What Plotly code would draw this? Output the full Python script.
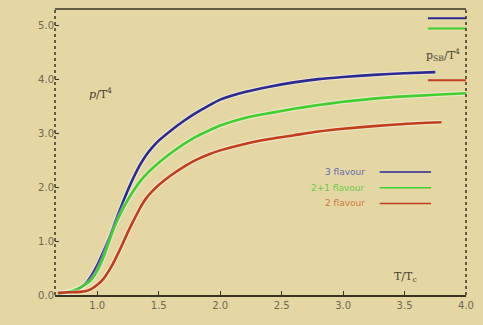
import plotly.graph_objects as go

# ---- data ----
x_3f = [0.68, 0.75, 0.80, 0.85, 0.90, 0.95, 1.00, 1.05, 1.10, 1.15, 1.20, 1.25, 1.30, 1.35, 1.40, 1.45, 1.50,
        1.60, 1.70, 1.80, 1.90, 2.00, 2.20, 2.40, 2.60, 2.80, 3.00, 3.25, 3.50, 3.75]
y_3f = [0.03, 0.04, 0.07, 0.12, 0.20, 0.35, 0.55, 0.80, 1.07, 1.38, 1.67, 1.95, 2.20, 2.42, 2.60, 2.74, 2.86,
        3.05, 3.22, 3.37, 3.50, 3.62, 3.76, 3.86, 3.94, 4.00, 4.04, 4.08, 4.11, 4.13]

x_21f = [0.68, 0.75, 0.80, 0.87, 0.95, 1.00, 1.05, 1.10, 1.15, 1.20, 1.25, 1.30, 1.35, 1.40, 1.50, 1.60,
         1.70, 1.80, 1.90, 2.00, 2.20, 2.40, 2.60, 2.80, 3.00, 3.25, 3.50, 3.75, 4.00]
y_21f = [0.03, 0.05, 0.08, 0.15, 0.28, 0.45, 0.70, 1.02, 1.32, 1.56, 1.77, 1.95, 2.11, 2.24, 2.45, 2.63,
         2.79, 2.93, 3.04, 3.14, 3.28, 3.37, 3.45, 3.52, 3.58, 3.64, 3.68, 3.71, 3.74]

x_2f = [0.68, 0.75, 0.80, 0.90, 0.95, 1.00, 1.05, 1.10, 1.15, 1.20, 1.25, 1.30, 1.35, 1.40, 1.45, 1.50, 1.60,
        1.70, 1.80, 1.90, 2.00, 2.20, 2.40, 2.60, 2.80, 3.00, 3.25, 3.50, 3.80]
y_2f = [0.04, 0.05, 0.05, 0.07, 0.11, 0.19, 0.30, 0.47, 0.68, 0.92, 1.17, 1.40, 1.62, 1.80, 1.93, 2.04, 2.22,
        2.37, 2.50, 2.60, 2.68, 2.80, 2.89, 2.96, 3.03, 3.08, 3.13, 3.17, 3.20]

series_names = ["3 flavour", "2+1 flavour", "2 flavour"]
sb_limits = [5.13, 4.94, 3.98]          # Stefan-Boltzmann limits p_SB/T^4
sb_x = [3.69, 4.0]

x_ticks = [1.0, 1.5, 2.0, 2.5, 3.0, 3.5, 4.0]
y_ticks = [0.0, 1.0, 2.0, 3.0, 4.0, 5.0]

line_colors = ["#2b2a95", "#3fcf2f", "#c23d1c"]
text_colors = ["#6a6aae", "#6ccb4c", "#d27a45"]
bg = "#e4d7a4"
axis_col = "#3a3324"
label_col = "#6f6751"

fig = go.Figure()

for xs, ys, c in [(x_3f, y_3f, line_colors[0]), (x_21f, y_21f, line_colors[1]), (x_2f, y_2f, line_colors[2])]:
    fig.add_trace(go.Scatter(x=xs, y=ys, mode="lines",
                             line=dict(color="rgba(255,255,255,0.35)", width=5, shape="spline", smoothing=0.6),
                             showlegend=False, hoverinfo="skip"))
    fig.add_trace(go.Scatter(x=xs, y=ys, mode="lines",
                             line=dict(color=c, width=2.6, shape="spline", smoothing=0.6),
                             showlegend=False))

# SB limit markers at right edge
for v, c in zip(sb_limits, line_colors):
    fig.add_trace(go.Scatter(x=sb_x, y=[v, v], mode="lines", line=dict(color=c, width=2),
                             showlegend=False, hoverinfo="skip"))

fig.add_annotation(x=3.81, y=4.44, text="p<sub>SB</sub>/T<sup>4</sup>", showarrow=False,
                   font=dict(size=11, color="#4a4232", family="DejaVu Serif"))
fig.add_annotation(x=1.03, y=3.74, text="<i>p</i>/T<sup>4</sup>", showarrow=False,
                   font=dict(size=11, color="#4a4232", family="DejaVu Serif"))
fig.add_annotation(x=3.51, y=0.33, text="T/T<sub>c</sub>", showarrow=False,
                   font=dict(size=11, color="#4a4232", family="DejaVu Serif"))

# custom legend: text on left, line on right
legend_y = [0.43, 0.375, 0.32]
for name, tc, lc, ly in zip(series_names, text_colors, line_colors, legend_y):
    fig.add_annotation(xref="paper", yref="paper", x=0.76, y=ly, text=name, showarrow=False,
                       xanchor="right", yanchor="middle", font=dict(size=9, color=tc, family="DejaVu Sans"))
    fig.add_shape(type="line", xref="paper", yref="paper", x0=0.79, x1=0.915, y0=ly, y1=ly,
                  line=dict(color=lc, width=1.5))

# dotted left/right axis lines
for xp in [0, 1]:
    fig.add_shape(type="line", xref="paper", yref="paper", x0=xp, x1=xp, y0=0, y1=1,
                  line=dict(color=axis_col, width=1.5, dash="dot"))
# solid top line
fig.add_shape(type="line", xref="paper", yref="paper", x0=0, x1=1, y0=1, y1=1,
              line=dict(color=axis_col, width=1.5))

fig.update_layout(
    width=483, height=325,
    margin=dict(l=55, r=10, t=9, b=30),
    paper_bgcolor=bg, plot_bgcolor=bg,
    showlegend=False,
    font=dict(family="DejaVu Sans", size=10, color=label_col),
)
fig.update_xaxes(range=[0.656, 4.0], tickvals=x_ticks, tickformat=".1f", showgrid=False, zeroline=False,
                 showline=True, linecolor=axis_col, linewidth=1.5, ticks="inside", ticklen=4,
                 tickcolor=axis_col, tickfont=dict(size=10, color=label_col))
fig.update_yaxes(range=[0, 5.3], tickvals=y_ticks, tickformat=".1f", showgrid=False, zeroline=False,
                 showline=False, ticks="inside", ticklen=4, tickcolor=axis_col,
                 tickfont=dict(size=10, color=label_col))

fig.write_html("out.html")
